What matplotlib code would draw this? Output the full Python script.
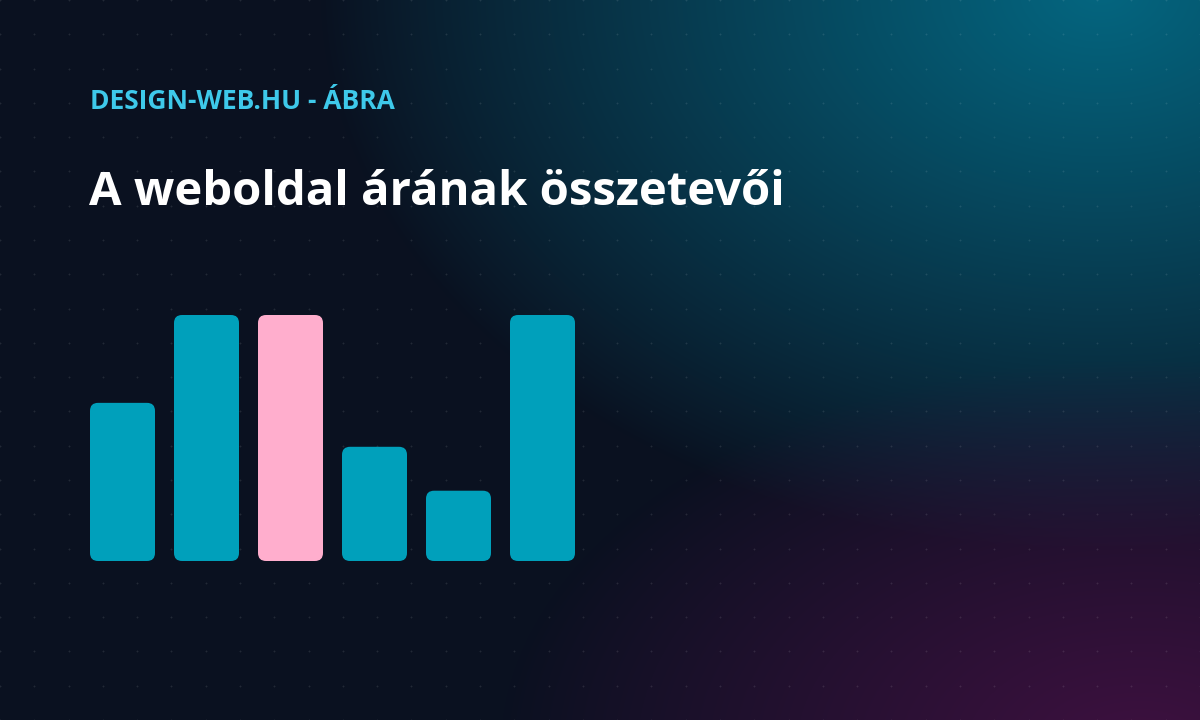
import numpy as np
import matplotlib
matplotlib.use("Agg")
import matplotlib.pyplot as plt
from matplotlib.patches import FancyBboxPatch

# ---- data ----
categories = ["Tervezés", "Fejlesztés", "Tartalom", "Domain", "Tárhely", "Karbantartás"]
values = [36, 56, 56, 26, 16, 56]
highlight = [False, False, True, False, False, False]
subtitle = "DESIGN-WEB.HU - ÁBRA"
title = "A weboldal árának összetevői"

W, H = 1200, 720
fig = plt.figure(figsize=(W / 100, H / 100), dpi=100)

# ---- background ----
bg = fig.add_axes([0, 0, 1, 1])
bg.set_xlim(0, W)
bg.set_ylim(H, 0)
bg.axis("off")
yy, xx = np.mgrid[0:H, 0:W].astype(float)
base = np.array([10, 17, 32]) / 255.0
teal = np.array([4, 102, 128]) / 255.0
purple = np.array([62, 16, 64]) / 255.0
d1 = np.sqrt(((xx - 1100) / 780) ** 2 + ((yy + 10) / 560) ** 2)
w1 = np.clip(1 - d1, 0, 1) ** 0.9
d2 = np.sqrt(((xx - 1140) / 640) ** 2 + ((yy - 750) / 390) ** 2)
w2 = np.clip(1 - d2, 0, 1) ** 0.9
img = base[None, None, :] * np.ones((H, W, 1))
img = img * (1 - w1[..., None]) + teal[None, None, :] * w1[..., None]
img = img * (1 - w2[..., None]) + purple[None, None, :] * w2[..., None]
bg.imshow(np.clip(img, 0, 1), extent=(0, W, H, 0), aspect="auto", zorder=0)

# dot grid
step = W / 35
gx = np.arange(0, W + 1, step)
gy = np.arange(0, H + 1, step)
GX, GY = np.meshgrid(gx, gy)
bg.scatter(GX.ravel(), GY.ravel(), s=2.5, marker="+", color="white", alpha=0.10,
           linewidths=0.6, zorder=1)

# ---- text ----
fig.text(90 / W, 1 - 109 / H, subtitle, fontsize=19, fontweight="bold",
         color="#3ec9ea", family=["Open Sans", "DejaVu Sans"], va="baseline", ha="left")
fig.text(89 / W, 1 - 205 / H, title, fontsize=34, fontweight="bold",
         color="white", family=["Open Sans", "DejaVu Sans"], va="baseline", ha="left")

# ---- bars ----
left, right, bottom_px, top_px = 90, 575, 561, 315
pitch = 84
bw = 65 / pitch
n = len(values)
ax = fig.add_axes([left / W, 1 - bottom_px / H, (right - left) / W, (bottom_px - top_px) / H])
ax.set_xlim(-bw / 2, n - 1 + bw / 2)
ax.set_ylim(0, max(values))
ax.axis("off")
ax.patch.set_alpha(0)

x = np.arange(n)
bars = ax.bar(x, values, width=bw, alpha=0)
px_per_x = (right - left) / (n - 1 + bw)
px_per_y = (bottom_px - top_px) / max(values)
r_px = 8
for b, hl in zip(bars, highlight):
    color = "#ffaecd" if hl else "#00a0bb"
    p = FancyBboxPatch((b.get_x(), b.get_y()), b.get_width(), b.get_height(),
                       boxstyle=f"round,pad=0,rounding_size={r_px / px_per_x}",
                       mutation_aspect=px_per_x / px_per_y,
                       facecolor=color, edgecolor="none", zorder=3)
    ax.add_patch(p)

fig.savefig("out.png", dpi=100)
